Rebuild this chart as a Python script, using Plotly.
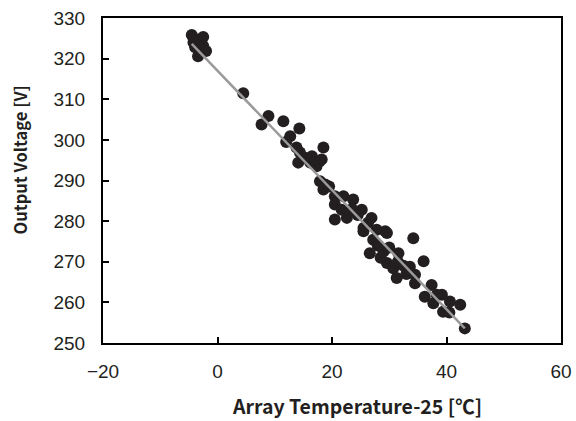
import plotly.graph_objects as go
import numpy as np

temp_diff = [-4.5, -3.1, -2.5, -2.5, -3.4, -2.0, -3.9, -4.2,
             4.5,
             7.7, 8.9, 11.5, 14.3, 12.7, 12.0, 13.8, 14.4, 15.3, 14.1, 16.2, 17.3, 16.5, 18.5, 18.2, 17.9,
             17.9, 18.8, 18.5, 19.5, 20.5, 22.0, 23.7, 20.5, 21.7, 25.2, 20.5, 22.6, 23.5, 24.5, 26.9,
             25.5, 27.8, 29.3, 26.3, 25.5, 27.2, 29.6, 34.2, 26.6, 29.0, 28.0, 30.0, 31.6, 29.6, 30.7,
             31.5, 32.5, 33.6, 36.0, 31.3, 34.5, 34.5, 37.4, 36.2, 39.2, 38.3, 37.7, 40.6, 42.4, 39.4,
             40.5, 43.2, 33.0, 28.5]
voltage = [325.8, 324.8, 325.3, 323.1, 320.6, 321.9, 322.8, 324.0,
           311.5,
           303.8, 305.9, 304.6, 302.8, 300.9, 299.5, 298.1, 296.9, 295.6, 294.4, 294.4, 293.5, 296.0, 298.1, 295.2, 294.8,
           289.8, 289.0, 287.8, 288.5, 286.1, 286.1, 285.3, 284.1, 282.8, 282.8, 280.4, 280.8, 283.0, 281.5, 280.8,
           278.3, 277.9, 277.5, 279.6, 277.5, 275.4, 277.1, 275.8, 272.1, 272.5, 274.0, 273.5, 272.1, 269.7, 268.4,
           270.0, 269.0, 268.8, 270.1, 266.0, 266.8, 264.7, 264.3, 261.4, 261.9, 261.9, 259.8, 260.2, 259.4, 257.7,
           257.5, 253.6, 267.0, 271.0]

fit_slope = -1.467
fit_intercept = 317.0

x_ticks = [-20, 0, 20, 40, 60]
y_ticks = [250, 260, 270, 280, 290, 300, 310, 320, 330]

fx = np.array([min(temp_diff), max(temp_diff)])
fy = fit_slope * fx + fit_intercept

fig = go.Figure()
fig.add_trace(go.Scatter(x=temp_diff, y=voltage, mode="markers",
                         marker=dict(size=12, color="#231f20", line=dict(width=0)),
                         showlegend=False))
fig.add_trace(go.Scatter(x=fx, y=fy, mode="lines",
                         line=dict(color="#9a9a9a", width=2.5), showlegend=False))

axis_common = dict(showline=True, linecolor="black", linewidth=2, mirror=True,
                   ticks="inside", ticklen=6, tickwidth=1.5, tickcolor="black",
                   showgrid=False, zeroline=False, automargin=False,
                   tickfont=dict(family="Liberation Sans, Arial", size=19, color="#231f20"))

fig.update_xaxes(range=[-20, 60], tickvals=x_ticks, ticklabelstandoff=10, **axis_common)
fig.update_yaxes(range=[250, 330], tickvals=y_ticks, ticklabelstandoff=12, **axis_common)

fig.update_layout(
    width=576, height=421,
    margin=dict(l=103, r=15, t=18, b=78),
    plot_bgcolor="white", paper_bgcolor="white",
    annotations=[
        dict(text="<b>Array Temperature-25 [℃]</b>", xref="paper", yref="paper",
             x=(357 - 103) / 458, y=-(405 - 343) / 324, showarrow=False,
             xanchor="center", yanchor="middle",
             font=dict(family="Noto Sans CJK JP", size=19.5, color="#231f20")),
        dict(text="<b>Output Voltage [V]</b>", xref="paper", yref="paper",
             x=-(103 - 20) / 458, y=(343 - 161) / 324, showarrow=False, textangle=-90,
             xanchor="center", yanchor="middle",
             font=dict(family="Noto Sans CJK JP", size=16.5, color="#231f20")),
    ],
)

fig.write_html("out.html", config={"displayModeBar": False},
               post_script="document.body.style.margin='0';document.body.style.overflow='hidden';")
